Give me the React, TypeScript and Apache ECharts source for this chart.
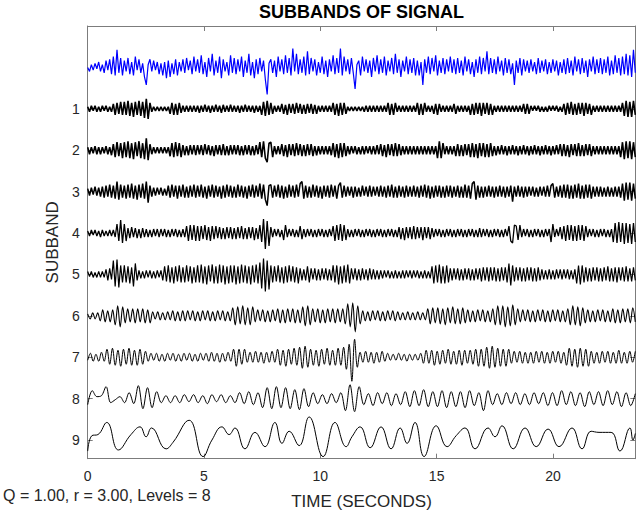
import { useEffect, useRef } from 'react';
import * as echarts from 'echarts';

// ---------------- data ----------------
const duration = 23.54; // seconds shown on the time axis
const timeTicks = [0, 5, 10, 15, 20];
const subbandTicks = [1, 2, 3, 4, 5, 6, 7, 8, 9];
const subbandNames = ['signal', '1', '2', '3', '4', '5', '6', '7', '8', '9'];

// amplitudes (display units, positive = up), sampled uniformly over [0, duration]
const signal = [
  0, -3, 2, -2, 3, -1, 4, -3, 2, -4, 5, -2, 6, -5, 8, -6, 13, -4, 7, -6,
  5, -3, 7, -5, 4, -6, 8, -2, 6, -4, 3, -7, -13, 2, 6, -3, 5, -2, 4, -5,
  3, -6, 4, -8, 5, -7, 3, -5, 6, -6, 4, -3, 6, -4, 7, -2, 5, -5, 8, -3,
  6, -4, 9, -5, 4, -7, 7, -3, 10, -6, 5, -4, 8, -8, 6, -3, 4, -6, 9, -4,
  7, -5, 6, -3, 8, -7, 5, -4, 10, -6, 4, -8, 6, -5, 7, -3, 5, -9, -20, 3,
  6, -4, 5, -7, 8, -3, 6, -5, 9, -4, 7, -6, 14, -3, 10, -5, 6, -4, 8, -6,
  12, -5, 7, -3, 6, -6, 4, -4, 8, -5, 5, -7, 6, -3, 9, -5, 7, -4, 14, -6,
  8, -3, 6, -5, 7, -4, -16, 2, 5, -6, 8, -3, 6, -4, 5, -7, 7, -3, 9, -5,
  6, -4, 8, -6, 5, -3, 7, -5, 10, -4, 6, -7, 5, -3, 8, -5, 6, -4, 7, -6,
  5, -6, 4, -13, 6, -4, 8, -5, 7, -3, 9, -6, 5, -4, 7, -5, 6, -3, 8, -4,
  6, -5, 7, -4, 5, -6, 8, -3, 6, -5, 4, -7, 6, -4, 8, -5, 7, -3, 12, -5,
  7, -4, 6, -5, 8, -3, 5, -6, 7, -4, 6, -5, 3, -13, 5, -4, 7, -6, 6, -3,
  5, -4, 6, -3, 4, -5, 7, -4, 5, -3, 6, -5, 4, -4, 6, -3, 5, -6, 4, -4,
  6, -5, 7, -4, 5, -6, 8, -3, 6, -5, 7, -4, 5, -7, 6, -3, 8, -5, 6, -4,
  7, -5, 6, -4, 8, -6, 5, -5, 9, -4, 7, -6, 8, -5, 10, -6, 9, -7, 13, -4,
];

const sb1 = [
  2, -3, 3, -2, 3, -3, 2, -3, 3, -2, 3, -3, 2, -3, 5, -6, 6, -5, 7, -6,
  7, -6, 8, -7, 6, -8, 7, -6, 8, -7, 7, -9, 10, -10, 6, -3, 2, -2, 2, -2,
  2, -2, 2, -2, 2, -5, 6, -6, 5, -6, 6, -4, 3, -3, 3, -3, 3, -3, 3, -3,
  3, -4, 3, -3, 4, -3, 3, -4, 3, -3, 4, -3, 3, -4, 4, -3, 3, -3, 4, -3,
  3, -3, 3, -4, 3, -3, 4, -3, 3, -3, 3, -4, 3, -3, 3, -6, 7, -7, 8, -6,
  6, -5, 3, -3, 3, -3, 5, -5, 4, -6, 5, -4, 5, -5, 6, -4, 5, -5, 4, -5,
  5, -4, 5, -5, 4, -5, 3, -3, 3, -3, 3, -3, 3, -3, 6, -6, 5, -7, 6, -6,
  6, -5, 2, -2, 2, -2, 2, -2, 2, -2, 2, -3, 3, -3, 3, -3, 3, -3, 3, -3,
  3, -3, 3, -3, 6, -6, 5, -6, 6, -3, 3, -3, 3, -3, 3, -3, 3, -3, 3, -3,
  6, -6, 5, -6, 6, -3, 3, -3, 3, -5, 5, -6, 5, -3, 3, -3, 3, -3, 3, -3,
  5, -5, 3, -3, 3, -3, 3, -3, 3, -6, 5, -6, 6, -5, 6, -7, 6, -5, 6, -6,
  5, -6, 3, -3, 3, -3, 3, -3, 3, -3, 3, -3, 3, -3, 3, -3, 3, -3, 5, -5,
  5, -5, 3, -2, 3, -2, 3, -3, 2, -3, 2, -3, 3, -2, 3, -2, 3, -3, 2, -3,
  5, -6, 6, -5, 7, -6, 5, -6, 6, -5, 6, -7, 6, -5, 5, -6, 3, -3, 3, -3,
  3, -3, 3, -3, 3, -3, 3, -3, 3, -3, 3, -3, 6, -7, 8, -8, 7, -8, 8, -6,
];

const sb2 = [
  3, -4, 3, -3, 4, -4, 3, -4, 3, -3, 4, -4, 3, -5, 6, -7, 8, -6, 7, -8,
  8, -7, 9, -8, 7, -9, 8, -6, 9, -8, 7, -9, 12, -10, 6, -4, 3, -3, 3, -3,
  3, -3, 3, -3, 3, -6, 7, -7, 8, -6, 7, -7, 5, -5, 4, -5, 5, -4, 5, -5,
  5, -4, 5, -5, 6, -4, 5, -5, 4, -6, 5, -4, 5, -5, 6, -5, 4, -5, 5, -4,
  5, -4, 5, -5, 4, -5, 5, -4, 5, -5, 4, -5, 5, -4, 8, -7, 9, -8, -12, 7,
  8, -7, 4, -4, 4, -4, 6, -6, 5, -7, 6, -5, 6, -6, 7, -5, 6, -6, 5, -6,
  6, -5, 6, -6, 4, -5, 4, -4, 4, -4, 4, -4, 4, -5, 7, -7, 6, -8, 7, -7,
  7, -6, 4, -4, 4, -3, 4, -4, 3, -4, 4, -4, 4, -3, 4, -4, 4, -4, 5, -4,
  6, -6, 5, -7, 6, -5, 6, -6, 7, -6, 6, -5, 4, -4, 4, -4, 4, -4, 4, -4,
  4, -4, 4, -4, 4, -4, 4, -4, 4, -4, 4, -8, 9, -8, 7, -4, 4, -4, 4, -4,
  4, -6, 6, -6, 5, -6, 6, -5, 6, -7, 7, -7, 6, -8, 7, -6, 7, -7, 6, -7,
  7, -6, 4, -5, 4, -4, 5, -4, 4, -5, 4, -4, 5, -4, 4, -5, 4, -4, 5, -4,
  4, -5, 4, -4, 5, -4, 4, -5, 4, -4, 5, -4, 4, -5, 4, -4, 5, -4, 6, -6,
  6, -6, 5, -7, 6, -5, 6, -6, 7, -6, 5, -6, 6, -5, 6, -6, 4, -4, 4, -4,
  4, -4, 4, -4, 4, -4, 4, -4, 4, -4, 4, -7, 8, -9, 9, -8, 9, -9, 8, -7,
];

const sb3 = [
  3, -4, 4, -3, 5, -4, 4, -5, 5, -6, 6, -5, 7, -6, 6, -7, 10, -8, 7, -6,
  6, -7, 7, -6, 8, -7, 6, -8, 7, -6, 8, -7, 10, -11, 6, -5, 4, -4, 4, -3,
  4, -4, 3, -4, 6, -6, 7, -5, 6, -7, 6, -5, 7, -6, 5, -6, 6, -5, 7, -6,
  6, -5, 7, -6, 5, -7, 6, -5, 7, -6, 6, -5, 5, -7, 6, -6, 7, -5, 6, -6,
  5, -6, 7, -5, 6, -6, 5, -7, 6, -5, 7, -6, 6, -5, 8, -7, 7, -8, -14, 6,
  7, -6, 6, -5, 7, -6, 6, -7, 5, -6, 7, -5, 6, -6, 7, -5, 8, 10, -7, 6,
  -6, 5, -6, 7, -5, 6, -6, 5, -7, 6, -5, 6, -6, 7, -5, 6, -7, 6, 9, -6,
  6, -5, 5, -4, 5, -6, 5, -5, 4, -5, 6, -4, 5, -5, 6, -5, 5, -4, 5, -5,
  6, -5, 5, -6, 6, -5, 7, -6, 5, -6, 6, -5, 5, -6, 6, -5, 5, -5, 6, -5,
  5, -6, 6, -5, 7, -6, 6, -7, 5, -6, 6, -5, 6, -6, 5, -6, 6, -5, 6, -6,
  5, -5, 6, -6, 5, -6, 7, -6, 6, -7, 8, 10, -8, 6, -6, 5, -6, 5, -5, 6,
  -5, 5, -6, 5, -5, 6, -5, 5, -6, 5, -5, 6, -10, 5, -5, 6, -5, 5, -6, 5,
  -5, 5, -4, 5, -5, 4, -5, 5, -4, 5, -5, 6, -5, 6, 8, -6, 5, -5, 6, -6,
  7, -6, 7, -7, 6, -7, 7, -6, 8, -7, 6, -7, 7, -6, 7, -7, 5, -5, 5, -5,
  5, -5, 4, -5, 5, -5, 4, -5, 5, -5, 5, -6, 8, -9, 9, -8, 9, -9, 8, -7,
];

const sb4 = [
  2, -3, 3, -2, 3, -3, 2, -4, 3, -3, 2, -3, 3, -3, 3, -4, 9, -8, 13, -10,
  9, -8, 5, -5, 6, -4, 5, -5, 4, -5, 5, -4, 4, -4, 3, -4, 4, -3, 4, -4,
  4, -3, 4, -4, 3, -4, 4, -3, 4, -4, 3, -4, 4, -4, 7, -8, 8, -7, 8, -8,
  7, -8, 7, -6, 8, -7, 6, -8, 7, -6, 7, -5, 6, -6, 5, -6, 6, -5, 6, -6,
  5, -6, 6, -5, 7, -6, 5, -6, 6, -5, 6, -7, 5, -6, 8, -9, 14, -16, 12, -13,
  6, -4, 4, -3, 4, -4, 3, -7, 8, -4, 4, -3, 4, -4, 3, -4, 7, -6, 4, -4,
  4, -3, 4, -4, 3, -4, 4, -3, 4, -4, 3, -4, 4, -3, 7, -8, 8, -7, 9, -8,
  8, -7, 4, -4, 3, -4, 4, -3, 4, -4, 3, -4, 4, -3, 4, -4, 3, -4, 4, -3,
  4, -4, 3, -4, 4, -3, 4, -4, 3, -4, 6, -6, 5, -7, 6, -5, 6, -6, 7, -6,
  6, -5, 6, -7, 6, -5, 6, -6, 5, -4, 4, -3, 4, -4, 3, -4, 4, -3, 4, -4,
  3, -4, 4, -3, 4, -4, 3, -4, 4, -3, 4, -4, 3, -4, 5, -4, 4, -3, 4, -4,
  3, -4, 4, -3, 4, -4, 3, -4, 4, -3, 7, -8, -10, 8, 7, -7, 8, -4, 4, -3,
  4, -4, 3, -4, 4, -3, 4, -4, 3, -4, 4, -3, 4, -9, 9, -4, 4, -3, 6, -6,
  7, -8, 8, -7, 8, -8, 7, -8, 8, -7, 8, -8, 7, -4, 4, -3, 4, -4, 3, -4,
  4, -3, 4, -4, 3, -4, 4, -9, 10, -10, 11, -9, 10, -11, 10, -10, 9, -11, 10, -9,
];

const sb5 = [
  3, -2, 3, -3, 2, -3, 3, -3, 3, -3, 5, -6, 6, -5, 14, -12, 15, -13, 9, -8,
  9, -8, 8, -9, 7, -12, 11, -6, 4, -4, 3, -4, 4, -3, 4, -4, 3, -4, 4, -3,
  4, -6, 8, -7, 9, -8, 7, -9, 8, -7, 9, -8, 7, -8, 9, -7, 8, -9, 7, -8,
  9, -8, 10, -9, 8, -10, 9, -7, 10, -9, 8, -9, 10, -8, 9, -10, 8, -9, 9, -8,
  9, -10, 8, -9, 10, -8, 9, -9, 8, -10, 9, -8, 10, -9, 12, -14, 16, -17, 14, -15,
  9, -8, 8, -7, 9, -8, 7, -9, 8, -8, 9, -7, 8, -8, 7, -9, 6, -6, 5, -6,
  8, -8, 6, -5, 6, -6, 5, -6, 6, -5, 6, -6, 5, -6, 9, -8, 9, -10, 8, -9,
  9, -8, 10, -9, 6, -5, 6, -6, 5, -6, 6, -5, 5, -6, 6, -5, 5, -5, 4, -5,
  4, -4, 4, -3, 4, -4, 3, -4, 4, -4, 3, -4, 4, -4, 4, -3, 4, -4, 4, -3,
  4, -4, 3, -4, 4, -4, 3, -4, 8, -9, 9, -8, 10, -9, 8, -9, 9, -8, 6, -6,
  6, -5, 6, -6, 5, -6, 6, -5, 6, -6, 5, -6, 6, -5, 6, -7, 7, -6, 7, -7,
  7, -6, 7, -7, 6, -7, 7, -6, 7, -8, 11, -11, 9, -7, 7, -6, 7, -7, 6, -7,
  7, -6, 7, -7, 6, -7, 7, -6, 5, -5, 4, -5, 5, -5, 4, -5, 5, -4, 5, -5,
  5, -4, 5, -5, 4, -5, 5, -9, 9, -10, 9, -8, 7, -7, 6, -7, 7, -6, 7, -7,
  6, -7, 7, -6, 8, -7, 6, -7, 7, -8, 7, -6, 7, -7, 8, -7, 6, -7, 7, -6,
];

const sb6 = [
  2, -3, 3, -3, 3, -5, 6, -6, 5, -6, 6, -9, 10, -11, 9, -7, 7, -6, 7, -7,
  7, -6, 7, -7, 6, -7, 4, -3, 4, -4, 3, -4, 4, -4, 5, -5, 4, -5, 5, -5,
  5, -4, 5, -5, 4, -5, 5, -4, 5, -5, 4, -5, 5, -4, 5, -5, 4, -5, 8, -9,
  9, -8, 10, -9, 8, -9, 9, -6, 6, -5, 6, -6, 5, -6, 6, -5, 7, -7, 6, -7,
  7, -6, 7, -7, 6, -7, 9, -10, 10, -9, 7, -6, 7, -7, 6, -7, 7, -6, 7, -7,
  7, -6, 7, -8, 12, -11, 13, -16, 10, -8, 5, -5, 4, -5, 5, -4, 5, -5, 4, -5,
  5, -4, 5, -5, 4, -4, 3, -4, 4, -4, 3, -4, 4, -4, 3, -4, 7, -8, 8, -7,
  8, -8, 7, -9, 8, -7, 9, -8, 7, -8, 8, -7, 6, -6, 5, -6, 6, -5, 6, -6,
  5, -6, 7, -9, 10, -9, 10, -11, 9, -10, 11, -9, 7, -6, 6, -5, 6, -6, 5, -6,
  6, -5, 6, -6, 5, -6, 6, -5, 6, -6, 5, -6, 7, -9, 10, -9, 9, -10, 8, -7,
  6, -6, 5, -6, 6, -5, 6, -6, 5, -6, 7, -7, 6, -7, 7, -6, 7, -7, 8, -6,
];

const sb7 = [
  -3, 4, -4, 3, -4, 5, -4, 8, -7, 9, -8, 7, -9, 8, -7, 9, -8, 7, -8, 8,
  -7, 6, -4, 4, -3, 4, -4, 3, -4, 4, -3, 4, -4, 3, -4, 4, -3, 4, -4, 3,
  -4, 4, -3, 4, -4, 5, -4, 4, -5, 4, -4, 5, -4, 8, -9, 8, -7, 8, -5, 5,
  -5, 6, -5, 5, -6, 5, -5, 6, -5, 8, -8, 7, -9, 8, -7, 9, -8, 10, -11, 11,
  -10, 8, -8, 7, -9, 8, -7, 9, -8, 7, -8, 9, -8, 10, -12, 13, -24, 18, -10, 5,
  -5, 6, -5, 5, -6, 5, -5, 6, -4, 4, -3, 3, -3, 4, -3, 3, -4, 3, -3, 3,
  -3, 4, -6, 7, -6, 7, -8, 6, -7, 7, -6, 8, -7, 6, -7, 7, -8, 7, -6, 7,
  -7, 8, -9, 8, -9, 10, -11, 11, -10, 9, -9, 8, -9, 8, -6, 6, -5, 6, -6, 5,
  -6, 5, -6, 6, -5, 6, -6, 5, -6, 6, -5, 6, -6, 5, -8, 9, -9, 8, -10, 9,
  -9, 8, -9, 6, -6, 5, -6, 6, -5, 6, -6, 5, -6, 7, -6, 5, -6, 6, -5, 6,
];

const sb8 = [
  -6, 8, 2, 3, 12, -4, -1, 2, -4, 6, -5, 13, -10, 11, -9, 7, -4, 3, -4, 3,
  -4, 4, -3, 4, -4, 3, -5, 4, -3, 4, -4, 3, -4, 6, -5, 7, -6, 6, -9, 11,
  -10, 12, -9, 11, -10, 9, -11, 10, -8, 6, -5, 4, -5, 5, -4, 6, -12, 14, -13, 12,
  -6, 5, -7, 6, -5, 6, -7, 5, -6, 7, -8, 8, -7, 9, -8, 7, -8, 8, -9, 7,
  -8, 7, -9, 8, -7, 6, -12, 8, -6, 5, -6, 6, -5, 6, -6, 5, -6, 6, -5, 6,
  -7, 6, -7, 8, -6, 7, -7, 6, -8, 7, -6, 7, -7, 8, -6, 7, -8, 6, -7, 5,
];

// subband 9: turning points (seconds, amplitude)
const sb9Time = [
  0, 0.18, 0.44, 0.82, 1.32, 1.86, 2.25, 2.51, 2.74, 3.37, 3.67, 4.36, 4.96, 5.34,
  5.77, 6.08, 6.33, 6.76, 7.19, 7.62, 8.05, 8.35, 8.66, 9.09, 9.52, 10.12, 10.63,
  11.11, 11.36, 11.71, 12.14, 12.61, 13.04, 13.43, 13.73, 14.07, 14.46, 14.98,
  15.45, 15.84, 16.22, 16.65, 17.21, 17.51, 17.81, 18.29, 18.8, 19.28, 19.79,
  20.26, 20.82, 21.25, 21.64, 21.98, 22.5, 22.88, 23.31, 23.44, 23.54,
];
const sb9Value = [
  -10, 4, 5, 16, -9, 5, 12, 3, 11, -8, -2, 18, -15, 0, 12, 5, 11, -8, 7, -6, 16,
  -3, 8, -5, 21, -15, 16, -6, 3, 12, -7, 12, -8, 11, -3, 16, -15, 13, -6, 4, 11,
  -8, 11, 3, 13, -8, 11, -6, 10, -6, 11, -8, 8, 7, 7, -10, 11, 0, 6,
];

const uniformTraces = [signal, sb1, sb2, sb3, sb4, sb5, sb6, sb7, sb8];

// ---------------- chart ----------------
const SPACING = 41.4; // amplitude units per subband step
const traceGain = [1.35, 1, 1, 1, 1, 1, 1, 1, 1, 1.1];
const traceWidth = [1.2, 1.6, 1.6, 1.5, 1.3, 1.2, 1.1, 1, 1, 1];
const FONT = '"Liberation Sans", Arial, Helvetica, sans-serif';

function uniformData(vals: number[], k: number) {
  const n = vals.length;
  const g = traceGain[k] / SPACING;
  return vals.map((v, i) => [(i * duration) / (n - 1), k - v * g]);
}

function buildOption() {
  const series: any[] = uniformTraces.map((vals, k) => ({
    type: 'line',
    name: subbandNames[k],
    data: uniformData(vals, k),
    showSymbol: false,
    symbol: 'none',
    smooth: k >= 6 ? 0.35 : false,
    lineStyle: { color: k === 0 ? '#0000ff' : '#000000', width: traceWidth[k] },
    silent: true,
  }));
  series.push({
    type: 'line',
    name: subbandNames[9],
    data: sb9Time.map((t, i) => [t, 9 - (sb9Value[i] * traceGain[9]) / SPACING]),
    showSymbol: false,
    symbol: 'none',
    smooth: 0.45,
    lineStyle: { color: '#000000', width: traceWidth[9] },
    silent: true,
  });

  const axisColor = '#7c7c7c';
  const labelColor = '#262626';

  return {
    animation: false,
    backgroundColor: '#ffffff',
    grid: {
      left: 87.7,
      top: 26,
      right: 5.7,
      bottom: 57.3,
      containLabel: false,
      outerBoundsMode: 'none',
    },
    xAxis: [
      {
        type: 'value',
        min: 0,
        max: duration,
        interval: 5,
        position: 'bottom',
        axisLine: { show: true, onZero: false, lineStyle: { color: axisColor, width: 1 } },
        axisTick: { show: true, inside: true, length: 5, customValues: timeTicks, lineStyle: { color: axisColor } },
        axisLabel: {
          show: true,
          customValues: timeTicks,
          margin: 10,
          color: labelColor,
          fontSize: 14,
          fontFamily: FONT,
        },
        splitLine: { show: false },
        name: 'TIME (SECONDS)',
        nameLocation: 'middle',
        nameGap: 34,
        nameTextStyle: { color: labelColor, fontSize: 17, fontFamily: FONT },
      },
      {
        type: 'value',
        min: 0,
        max: duration,
        interval: 5,
        position: 'top',
        axisLine: { show: true, onZero: false, lineStyle: { color: axisColor, width: 1 } },
        axisTick: { show: true, inside: true, length: 5, customValues: timeTicks, lineStyle: { color: axisColor } },
        axisLabel: { show: false },
        splitLine: { show: false },
      },
    ],
    yAxis: [
      {
        type: 'value',
        inverse: true,
        min: -1,
        max: 9.45,
        interval: 1,
        position: 'left',
        axisLine: { show: true, onZero: false, lineStyle: { color: axisColor, width: 1 } },
        axisTick: { show: true, inside: true, length: 5, customValues: subbandTicks, lineStyle: { color: axisColor } },
        axisLabel: {
          show: true,
          customValues: subbandTicks,
          margin: 8,
          color: labelColor,
          fontSize: 14,
          fontFamily: FONT,
        },
        splitLine: { show: false },
        name: 'SUBBAND',
        nameLocation: 'middle',
        nameGap: 22,
        nameRotate: 90,
        nameTextStyle: { color: labelColor, fontSize: 17, fontFamily: FONT },
      },
      {
        type: 'value',
        inverse: true,
        min: -1,
        max: 9.45,
        interval: 1,
        position: 'right',
        axisLine: { show: true, onZero: false, lineStyle: { color: axisColor, width: 1 } },
        axisTick: { show: true, inside: true, length: 5, customValues: subbandTicks, lineStyle: { color: axisColor } },
        axisLabel: { show: false },
        splitLine: { show: false },
      },
    ],
    graphic: [
      {
        type: 'text',
        x: 361.5,
        y: 12,
        style: {
          text: 'SUBBANDS OF SIGNAL',
          align: 'center',
          verticalAlign: 'middle',
          font: `bold 18px ${FONT}`,
          fill: '#000000',
        },
      },
      {
        type: 'text',
        x: 3,
        y: 495,
        style: {
          text: 'Q = 1.00, r = 3.00, Levels = 8',
          align: 'left',
          verticalAlign: 'middle',
          font: `16px ${FONT}`,
          fill: labelColor,
        },
      },
    ],
    series,
  };
}

export default function App() {
  const ref = useRef<HTMLDivElement | null>(null);
  useEffect(() => {
    document.body.style.margin = '0';
    if (!ref.current) return;
    const chart = echarts.init(ref.current, undefined, { renderer: 'svg' });
    chart.setOption(buildOption() as any);
    return () => {
      chart.dispose();
    };
  }, []);
  return <div ref={ref} style={{ width: 641, height: 516 }} />;
}
